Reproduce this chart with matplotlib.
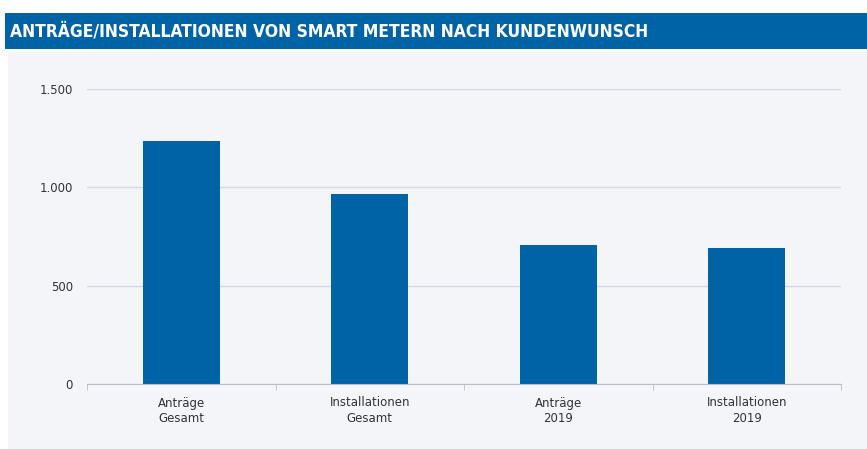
import matplotlib.pyplot as plt
from matplotlib.patches import Rectangle
from matplotlib.ticker import FuncFormatter

# Daten
kategorien = ['Anträge\nGesamt', 'Installationen\nGesamt', 'Anträge\n2019', 'Installationen\n2019']
werte = [1237, 968, 707, 690]
y_ticks = [0, 500, 1000, 1500]

blau = '#0063a6'
panel = '#f4f5f9'

fig = plt.figure(figsize=(8.67, 4.49), dpi=100)
fig.patch.set_facecolor('white')

# Hintergrundflächen: Titelbalken und Panel
fig.patches.append(Rectangle((5 / 867, 1 - 49 / 449), 1, 36 / 449, transform=fig.transFigure,
                             facecolor=blau, edgecolor='none', zorder=-2))
fig.patches.append(Rectangle((8 / 867, 0), 1, 1 - 52 / 449, transform=fig.transFigure,
                             facecolor=panel, edgecolor='none', zorder=-2))

fig.text(10 / 867, 1 - 31 / 449, 'ANTRÄGE/INSTALLATIONEN VON SMART METERN NACH KUNDENWUNSCH',
         color='white', fontsize=12.5, fontweight='bold', fontstretch='condensed',
         family=['Liberation Sans Narrow', 'DejaVu Sans'], va='center', ha='left')

ax = fig.add_axes([87 / 867, 1 - 384 / 449, 754 / 867, 295 / 449])
ax.set_facecolor('none')

x = list(range(len(kategorien)))
ax.bar(x, werte, width=0.41, color=blau, zorder=3)

ax.set_xlim(-0.5, len(kategorien) - 0.5)
ax.set_ylim(0, 1500)
ax.set_yticks(y_ticks)
ax.yaxis.set_major_formatter(FuncFormatter(lambda v, p: f'{int(v):,}'.replace(',', '.')))
ax.grid(axis='y', color='#d3d7e1', linewidth=1, zorder=1)

ax.set_xticks(x)
ax.set_xticklabels(kategorien, linespacing=1.3)
ax.set_xticks([i - 0.5 for i in range(len(kategorien) + 1)], minor=True)

for s in ['top', 'right', 'left']:
    ax.spines[s].set_visible(False)
ax.spines['bottom'].set_color('#b9bec8')
ax.spines['bottom'].set_zorder(4)

ax.tick_params(axis='y', length=0, pad=10, labelsize=8.5, labelcolor='#333333')
ax.tick_params(axis='x', which='major', length=0, pad=9, labelsize=8.5, labelcolor='#333333')
ax.tick_params(axis='x', which='minor', length=4, color='#b9bec8', direction='out')

fig.savefig('out.png', dpi=100)
